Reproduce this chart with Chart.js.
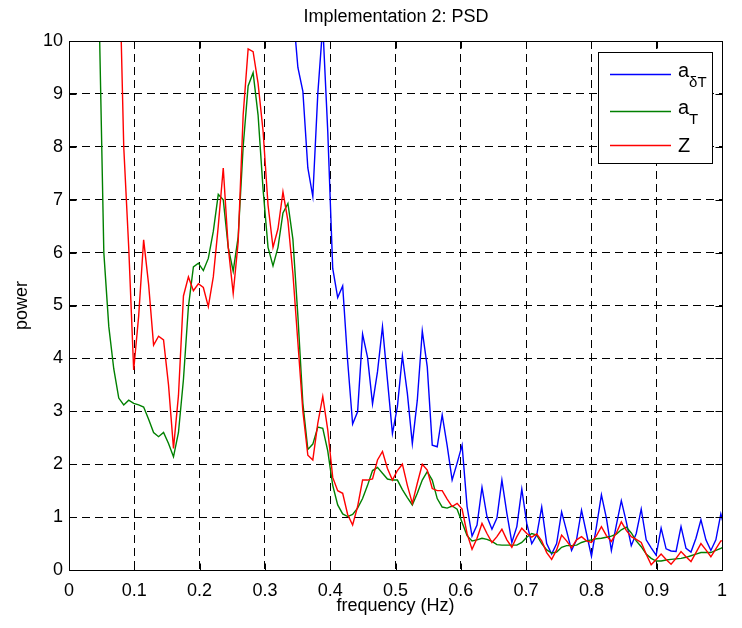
<!DOCTYPE html>
<html>
<head>
<meta charset="utf-8">
<title>Implementation 2: PSD</title>
<script src="https://cdn.jsdelivr.net/npm/chart.js@4.4.1/dist/chart.umd.min.js"></script>
<style>
  html, body { margin: 0; padding: 0; background: #fff; }
  canvas { display: block; }
</style>
</head>
<body>
<canvas id="psdChart" width="742" height="628"></canvas>
<script>
// frequency spacing of the PSD bins (Hz)
let binWidth = 0.00762;

let xTickLabels = ['0', '0.1', '0.2', '0.3', '0.4', '0.5', '0.6', '0.7', '0.8', '0.9', '1'];
let yTickLabels = ['0', '1', '2', '3', '4', '5', '6', '7', '8', '9', '10'];

// legend text: [main, subscript]
let seriesNames = [['a', 'δT'], ['a', 'T'], ['Z', '']];
let seriesColors = ['#0000ff', '#008000', '#ff0000'];

let aDeltaT = [
  80, 75, 70, 66, 62, 58, 55, 52, 49, 46,
  44, 42, 40, 38, 36, 35, 33, 32, 31, 30,
  29, 28, 27, 26, 25, 24, 23.5, 23, 22, 21.5,
  21, 20, 19.5, 19, 18.5, 18, 17.5, 17, 16.5, 16,
  15.5, 15, 14.5, 14, 13, 10.6, 9.5, 9.05, 7.6, 7.06,
  9.0, 10.3, 8.3, 5.7, 5.15, 5.37, 3.95, 2.76, 2.99, 4.46,
  4.02, 3.14, 3.75, 4.6, 3.59, 2.58, 3.09, 4.05, 3.34, 2.39,
  3.21, 4.52, 3.84, 2.36, 2.33, 2.93, 2.35, 1.7, 2.02, 2.36,
  1.2, 0.64, 0.85, 1.56, 1.01, 0.77, 0.98, 1.7, 1.07, 0.52,
  0.82, 1.53, 0.88, 0.5, 0.66, 1.19, 0.5, 0.3, 0.5, 1.1,
  0.74, 0.37, 0.57, 1.13, 0.69, 0.26, 0.82, 1.42, 0.98, 0.37,
  0.85, 1.31, 0.91, 0.46, 0.69, 1.15, 0.57, 0.42, 0.28, 0.79,
  0.4, 0.36, 0.35, 0.82, 0.41, 0.34, 0.6, 0.95, 0.57, 0.37,
  0.57, 1.06, 0.7
];

let aT = [
  40, 34, 28, 22, 17, 13.5, 10.8, 6.0, 4.6, 3.8,
  3.25, 3.12, 3.21, 3.15, 3.12, 3.08, 2.85, 2.6, 2.52, 2.6,
  2.39, 2.14, 2.6, 3.6, 4.98, 5.73, 5.8, 5.66, 5.89, 6.4,
  7.1, 7.0, 6.1, 5.65, 6.3, 8.0, 9.15, 9.4, 8.6, 7.2,
  6.1, 5.75, 6.1, 6.75, 6.93, 6.25, 4.8, 3.15, 2.28, 2.38,
  2.7, 2.68, 2.25, 1.6, 1.23, 1.06, 1.01, 1.05, 1.17, 1.35,
  1.6, 1.88, 1.94, 1.83, 1.72, 1.7, 1.7, 1.52, 1.37, 1.23,
  1.45, 1.7, 1.86, 1.7, 1.35, 1.19, 1.17, 1.21, 1.15, 0.9,
  0.65, 0.55, 0.57, 0.6, 0.58, 0.54, 0.48, 0.47, 0.47, 0.47,
  0.47, 0.52, 0.62, 0.69, 0.66, 0.5, 0.38, 0.32, 0.34, 0.43,
  0.46, 0.46, 0.47, 0.52, 0.55, 0.57, 0.59, 0.6, 0.62, 0.64,
  0.68, 0.76, 0.81, 0.7, 0.55, 0.44, 0.3, 0.22, 0.17, 0.17,
  0.19, 0.2, 0.21, 0.22, 0.24, 0.27, 0.3, 0.33, 0.33, 0.33,
  0.37, 0.41, 0.45
];

let zPsd = [
  45, 40, 34, 29, 25, 21, 18, 16, 14.5, 13,
  12, 8.0, 6.1, 3.78, 4.8, 6.24, 5.4, 4.25, 4.42, 4.35,
  3.5, 2.3, 3.3, 5.18, 5.54, 5.28, 5.41, 5.34, 4.98, 5.54,
  6.5, 7.6, 6.1, 5.23, 6.2, 8.6, 9.85, 9.8, 9.2, 8.3,
  6.9, 6.1, 6.45, 7.15, 6.6, 5.6, 4.3, 3.0, 2.17, 2.08,
  2.77, 3.28, 2.65, 1.75, 1.5, 1.45, 1.05, 0.85, 1.2, 1.7,
  1.7, 1.72, 2.08, 2.24, 1.92, 1.7, 1.88, 2.0, 1.6, 1.26,
  1.64, 2.0, 1.89, 1.54, 1.5, 1.5, 1.34, 1.2, 1.26, 1.15,
  0.69, 0.39, 0.6, 0.88, 0.69, 0.52, 0.63, 0.77, 0.57, 0.43,
  0.63, 0.79, 0.69, 0.62, 0.68, 0.55, 0.33, 0.2, 0.38, 0.66,
  0.55, 0.42, 0.57, 0.63, 0.55, 0.52, 0.65, 0.82, 0.65, 0.54,
  0.7, 0.91, 0.75, 0.63, 0.58, 0.52, 0.3, 0.1, 0.2, 0.3,
  0.2, 0.11, 0.22, 0.35, 0.25, 0.16, 0.33, 0.5, 0.38, 0.25,
  0.4, 0.55, 0.55
];

let fontFamily = '"Liberation Sans", Arial, Helvetica, sans-serif';
Chart.defaults.font.family = fontFamily;
Chart.defaults.color = '#000';

function toPoints(values) {
  return values.map((v, i) => ({ x: i * binWidth, y: v }));
}

// matlab style box, inward ticks, title and legend
let matlabAxes = {
  id: 'matlabAxes',
  afterDatasetsDraw(chart) {
    let ctx = chart.ctx;
    let xs = chart.scales.x;
    let ys = chart.scales.y;
    let left = Math.round(xs.getPixelForValue(0)) + 0.5;
    let right = Math.round(xs.getPixelForValue(1)) + 0.5;
    let top = Math.round(ys.getPixelForValue(10)) + 0.5;
    let bottom = Math.round(ys.getPixelForValue(0)) + 0.5;
    let tick = 7;

    ctx.save();
    ctx.strokeStyle = '#000';
    ctx.lineWidth = 1;
    ctx.setLineDash([]);
    ctx.strokeRect(left, top, right - left, bottom - top);

    ctx.beginPath();
    xs.ticks.forEach(t => {
      let px = Math.round(xs.getPixelForValue(t.value)) + 0.5;
      ctx.moveTo(px, bottom); ctx.lineTo(px, bottom - tick);
      ctx.moveTo(px, top); ctx.lineTo(px, top + tick);
    });
    ys.ticks.forEach(t => {
      let py = Math.round(ys.getPixelForValue(t.value)) + 0.5;
      ctx.moveTo(left, py); ctx.lineTo(left + tick, py);
      ctx.moveTo(right, py); ctx.lineTo(right - tick, py);
    });
    ctx.stroke();

    // title
    ctx.fillStyle = '#000';
    ctx.font = '18px ' + fontFamily;
    ctx.textAlign = 'center';
    ctx.textBaseline = 'middle';
    ctx.fillText('Implementation 2: PSD', (left + right) / 2, 17);

    // legend box
    let bx = 598.5, by = 52.5, bw = 114, bh = 111;
    ctx.fillStyle = '#fff';
    ctx.fillRect(bx, by, bw, bh);
    ctx.strokeStyle = '#000';
    ctx.strokeRect(bx, by, bw, bh);

    let rows = [74, 111, 145];
    seriesNames.forEach((name, i) => {
      let ly = rows[i] + 0.5;
      ctx.strokeStyle = seriesColors[i];
      ctx.lineWidth = 1.4;
      ctx.beginPath();
      ctx.moveTo(610, ly);
      ctx.lineTo(671, ly);
      ctx.stroke();

      ctx.fillStyle = '#000';
      ctx.textAlign = 'left';
      ctx.textBaseline = 'alphabetic';
      ctx.font = '20px ' + fontFamily;
      let base = name[1] ? rows[i] + 3 : rows[i] + 7;
      ctx.fillText(name[0], 678, base);
      if (name[1]) {
        let w = ctx.measureText(name[0]).width;
        ctx.font = '15px ' + fontFamily;
        ctx.fillText(name[1], 678 + w, base + 10);
      }
    });
    ctx.restore();
  }
};

let psdData = {
  datasets: [{
    label: 'aδT',
    data: toPoints(aDeltaT),
    borderColor: seriesColors[0],
    order: 3
  }, {
    label: 'aT',
    data: toPoints(aT),
    borderColor: seriesColors[1],
    order: 2
  }, {
    label: 'Z',
    data: toPoints(zPsd),
    borderColor: seriesColors[2],
    order: 1
  }]
};

let gridStyle = {
  color: '#000',
  lineWidth: 1,
  drawTicks: false
};

let psdOptions = {
  responsive: false,
  animation: false,
  devicePixelRatio: 1,
  layout: {
    padding: { top: 41, right: 20, left: 0, bottom: 0 }
  },
  elements: {
    point: { radius: 0 },
    line: { borderWidth: 1.4, tension: 0, fill: false }
  },
  plugins: {
    legend: { display: false },
    title: { display: false },
    tooltip: { enabled: false }
  },
  scales: {
    x: {
      type: 'linear',
      min: 0,
      max: 1,
      grid: gridStyle,
      border: { display: false, dash: [8, 5] },
      ticks: {
        stepSize: 0.1,
        padding: 10,
        maxRotation: 0,
        font: { size: 18 },
        callback: (v, i) => xTickLabels[i]
      },
      title: {
        display: true,
        text: 'frequency (Hz)',
        font: { size: 18 },
        padding: { top: 0, bottom: 11 }
      },
      afterFit: scale => { scale.height = 58; }
    },
    y: {
      type: 'linear',
      min: 0,
      max: 10,
      grid: gridStyle,
      border: { display: false, dash: [8, 5] },
      ticks: {
        stepSize: 1,
        padding: 6,
        font: { size: 18 },
        callback: (v, i) => yTickLabels[i]
      },
      title: {
        display: true,
        text: 'power',
        font: { size: 18 },
        padding: { top: 11, bottom: 0 }
      },
      afterFit: scale => { scale.width = 69; }
    }
  }
};

var psdCanvas = document.getElementById('psdChart').getContext('2d');
var chart1 = new Chart(psdCanvas, {
  type: 'line',
  data: psdData,
  options: psdOptions,
  plugins: [matlabAxes]
});
</script>
</body>
</html>
